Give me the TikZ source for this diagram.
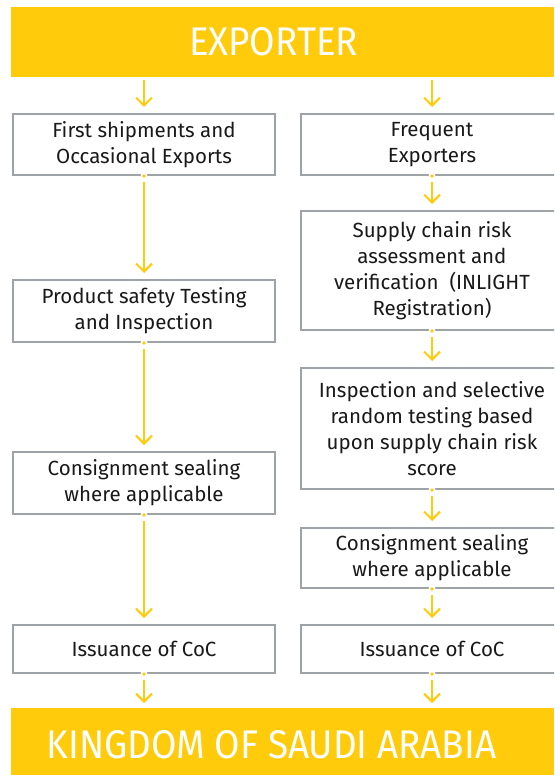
\documentclass[tikz,border=0pt]{standalone}
\usepackage{fontspec}
\setmainfont{Fira Sans}
\newfontfamily\bannerfont[FakeStretch=0.92]{Fira Sans}
\usetikzlibrary{arrows.meta, positioning}
\definecolor{ksayellow}{HTML}{FFCB0A}
\definecolor{boxgray}{HTML}{9EA3A8}
\tikzset{
  banner/.style = {fill=ksayellow, text=white, inner sep=0, minimum width=543pt,
    font=\bannerfont\fontsize{40}{46}\selectfont},
  stage/.style = {draw=boxgray, line width=2pt, fill=white, align=center, inner sep=0,
    text=black!90, font=\fontsize{20.5}{26}\selectfont},
  leftcol/.style = {stage, minimum width=262pt},
  rightcol/.style = {stage, minimum width=262pt},
  flow/.style = {draw=ksayellow, line width=2pt, -{Straight Barb[length=8pt, width=16pt]}}
}

\begin{document}
\begin{tikzpicture}[x=1pt, y=-1pt]

  \useasboundingbox (0,0) rectangle (554,775);
  \clip (0,0) rectangle (554,775);

  %% Banners
  \node[banner, minimum height=70pt] (exporter) at (282.5,42) {EXPORTER\hspace*{18pt}};
  \node[banner, minimum height=74pt, anchor=north] (ksa) at (282.5,708) {KINGDOM OF SAUDI ARABIA\hspace*{22pt}};

  %% Occasional route
  \node[leftcol, minimum height=61pt] (first) at (144,144.5) {First shipments and\\Occasional Exports};
  \node[leftcol, minimum height=62pt] (safety) at (144,311) {Product safety Testing\\and Inspection};
  \node[leftcol, minimum height=62pt] (sealL) at (144,483) {Consignment sealing\\where applicable};
  \node[leftcol, minimum height=48pt] (cocL) at (144,649) {Issuance of CoC};

  %% Frequent route
  \node[rightcol, minimum height=61pt] (frequent) at (432,144.5) {Frequent\\Exporters};
  \node[rightcol, minimum height=119pt] (supply) at (432,270.5) {Supply chain risk\\assessment and\\verification~~(INLIGHT\\Registration)};
  \node[rightcol, minimum height=121pt] (random) at (432,428.5) {Inspection and selective\\random testing based\\upon supply chain risk\\score};
  \node[rightcol, minimum height=60pt] (sealR) at (432,558) {Consignment sealing\\where applicable};
  \node[rightcol, minimum height=48pt] (cocR) at (432,649) {Issuance of CoC};

  % Exporter to both routes
  \draw[flow, shorten <=3pt, shorten >=6pt] (exporter.south -| first.north) -- (first.north);
  \draw[flow, shorten <=3pt, shorten >=6pt] (exporter.south -| frequent.north) -- (frequent.north);

  % Steps
  \foreach \a/\b in {first/safety, safety/sealL, sealL/cocL,
                     frequent/supply, supply/random, random/sealR, sealR/cocR} {
    \draw[flow, shorten <=6pt, shorten >=6pt] (\a.south) -- (\b.north);
    \fill[white] (\a.south) circle (3.5pt);
    \fill[ksayellow] (\a.south) circle (1.8pt);
  }

  % Into the kingdom
  \foreach \a in {cocL, cocR} {
    \draw[flow, shorten <=6pt, shorten >=5pt] (\a.south) -- (\a.south |- ksa.north);
    \fill[white] (\a.south) circle (3.5pt);
    \fill[ksayellow] (\a.south) circle (1.8pt);
  }

\end{tikzpicture}
\end{document}
